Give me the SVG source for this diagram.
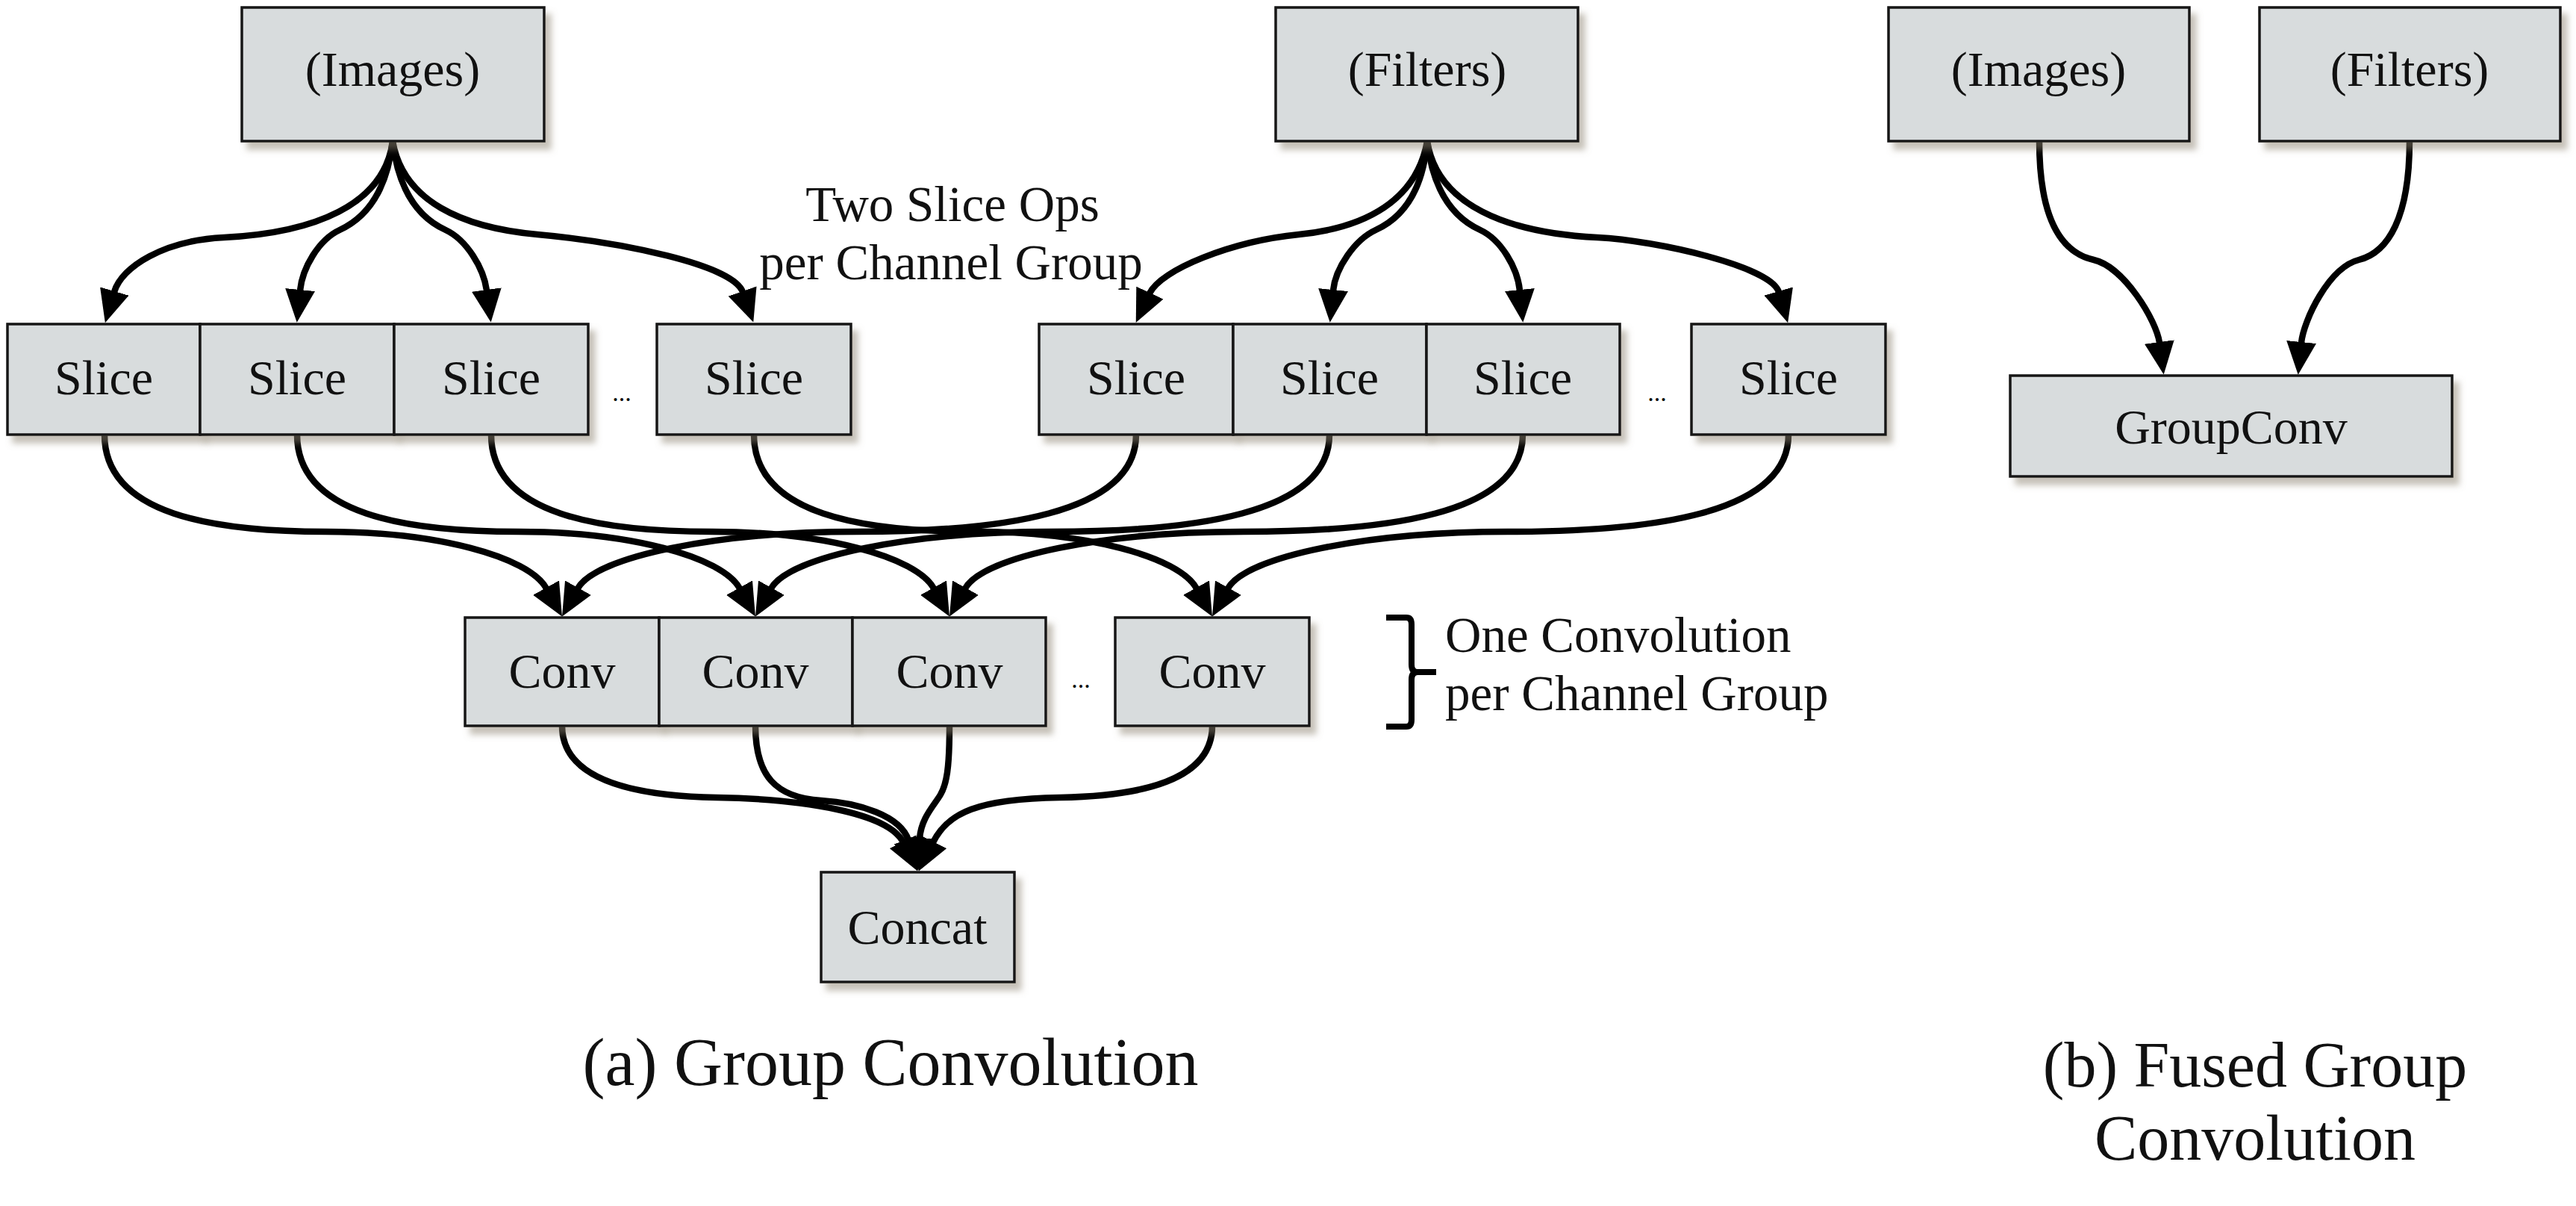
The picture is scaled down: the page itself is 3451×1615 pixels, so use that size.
<svg xmlns="http://www.w3.org/2000/svg" width="3451" height="1615" viewBox="0 0 3451 1615">
<defs>
<style>
.box{fill:#d8dcdd;stroke:#161616;stroke-width:3.5;filter:url(#sh)}
.lbl{font-family:"Liberation Serif","Times New Roman",serif;font-size:66px;fill:#111;text-anchor:middle}
.ann{font-family:"Liberation Serif","Times New Roman",serif;font-size:67px;fill:#111}
.cap{font-family:"Liberation Serif","Times New Roman",serif;font-size:86px;fill:#111;text-anchor:middle}
.capa{font-size:90px}
.dots{font-family:"Liberation Serif","Times New Roman",serif;font-size:34px;fill:#111;text-anchor:middle}
.edge{fill:none;stroke:#000;stroke-width:8.5;marker-end:url(#ah)}
</style>
<filter id="sh" x="-10%" y="-10%" width="130%" height="140%">
<feDropShadow dx="8" dy="10" stdDeviation="4" flood-color="#8c8270" flood-opacity="0.5"/>
</filter>
<marker id="ah" viewBox="0 0 44 40" markerUnits="userSpaceOnUse" markerWidth="44" markerHeight="40" refX="1" refY="20" orient="auto">
<path d="M0,0 L44,20 L0,40 z" fill="#000"/>
</marker>
</defs>
<rect width="3451" height="1615" fill="#fff"/>

<g id="connectors">
<path class="edge" d="M526,189 C515,275 420,312 300,318 C220,322 163,357 153,391"/>
<path class="edge" d="M526,189 C518,258 490,292 455,308 C427,321 405,359 402,389"/>
<path class="edge" d="M526,189 C534,258 562,292 597,308 C625,321 648,359 652,389"/>
<path class="edge" d="M526,189 C540,270 620,305 720,314 C830,324 982,354 995,391"/>
<path class="edge" d="M1912,189 C1898,268 1830,305 1740,314 C1650,323 1555,361 1540,393"/>
<path class="edge" d="M1912,189 C1906,258 1878,292 1843,308 C1815,321 1789,359 1786,389"/>
<path class="edge" d="M1912,189 C1920,258 1948,292 1983,308 C2011,321 2033,359 2036,389"/>
<path class="edge" d="M1912,189 C1925,275 2020,312 2140,318 C2220,322 2373,357 2383,391"/>

<path class="edge" d="M140,582 C140,690 288,712 436,712 S708,745 732,788"/>
<path class="edge" d="M398,582 C398,690 546,712 694,712 S967,745 991,788"/>
<path class="edge" d="M658,582 C658,690 806,712 954,712 S1227,745 1251,788"/>
<path class="edge" d="M1010,582 C1010,690 1158,712 1306,712 S1579,745 1603,788"/>
<path class="edge" d="M1522,582 C1522,690 1335,712 1148,712 S798,745 774,788"/>
<path class="edge" d="M1781,582 C1781,690 1594,712 1407,712 S1057,745 1033,788"/>
<path class="edge" d="M2040,582 C2040,690 1853,712 1666,712 S1317,745 1293,788"/>
<path class="edge" d="M2396,582 C2396,690 2208,712 2020,712 S1669,745 1645,788"/>

<path class="edge" d="M753,972 C753,1045 850,1066 960,1068 C1075,1070 1190,1088 1210,1128"/>
<path class="edge" d="M1012,972 C1012,1040 1040,1068 1100,1072 C1150,1075 1206,1092 1217,1125"/>
<path class="edge" d="M1272,972 C1272,1030 1268,1050 1260,1064 C1252,1078 1234,1095 1232,1123"/>
<path class="edge" d="M1624,972 C1624,1045 1530,1066 1420,1068 C1310,1070 1270,1088 1250,1128"/>

<path class="edge" d="M2732,189 C2732,290 2760,338 2805,348 C2845,357 2889,429 2893,459"/>
<path class="edge" d="M3228,189 C3228,290 3200,338 3160,348 C3120,358 3086,429 3083,459"/>
</g>

<g id="images"><rect class="box" x="324" y="10" width="405" height="179"/><text class="lbl" x="526" y="115">(Images)</text></g>
<g id="filters"><rect class="box" x="1709" y="10" width="405" height="179"/><text class="lbl" x="1912" y="115">(Filters)</text></g>

<g id="slice-i1"><rect class="box" x="10" y="434" width="258" height="148"/><text class="lbl" x="139" y="528">Slice</text></g>
<g id="slice-i2"><rect class="box" x="268" y="434" width="260" height="148"/><text class="lbl" x="398" y="528">Slice</text></g>
<g id="slice-i3"><rect class="box" x="528" y="434" width="260" height="148"/><text class="lbl" x="658" y="528">Slice</text></g>
<g id="slice-i4"><rect class="box" x="880" y="434" width="260" height="148"/><text class="lbl" x="1010" y="528">Slice</text></g>
<text class="dots" x="833" y="537">...</text>

<g id="slice-f1"><rect class="box" x="1392" y="434" width="260" height="148"/><text class="lbl" x="1522" y="528">Slice</text></g>
<g id="slice-f2"><rect class="box" x="1652" y="434" width="259" height="148"/><text class="lbl" x="1781" y="528">Slice</text></g>
<g id="slice-f3"><rect class="box" x="1911" y="434" width="259" height="148"/><text class="lbl" x="2040" y="528">Slice</text></g>
<g id="slice-f4"><rect class="box" x="2266" y="434" width="260" height="148"/><text class="lbl" x="2396" y="528">Slice</text></g>
<text class="dots" x="2220" y="537">...</text>

<g id="conv1"><rect class="box" x="623" y="827" width="260" height="145"/><text class="lbl" x="753" y="921">Conv</text></g>
<g id="conv2"><rect class="box" x="883" y="827" width="259" height="145"/><text class="lbl" x="1012" y="921">Conv</text></g>
<g id="conv3"><rect class="box" x="1142" y="827" width="259" height="145"/><text class="lbl" x="1272" y="921">Conv</text></g>
<g id="conv4"><rect class="box" x="1494" y="827" width="260" height="145"/><text class="lbl" x="1624" y="921">Conv</text></g>
<text class="dots" x="1448" y="921">...</text>

<g id="concat"><rect class="box" x="1100" y="1168" width="259" height="147"/><text class="lbl" x="1229" y="1264">Concat</text></g>

<g id="images-b"><rect class="box" x="2530" y="10" width="403" height="179"/><text class="lbl" x="2731" y="115">(Images)</text></g>
<g id="filters-b"><rect class="box" x="3027" y="10" width="403" height="179"/><text class="lbl" x="3228" y="115">(Filters)</text></g>
<g id="groupconv"><rect class="box" x="2693" y="503" width="592" height="135"/><text class="lbl" x="2989" y="594">GroupConv</text></g>

<g id="annotations">
<text class="ann" x="1276" y="296" text-anchor="middle">Two Slice Ops</text>
<text class="ann" x="1274" y="374" text-anchor="middle">per Channel Group</text>
<path d="M1857,827 L1884,827 Q1891,827 1891,836 L1891,890 Q1891,900 1899,900 L1924,900 M1899,900 Q1891,900 1891,910 L1891,964 Q1891,973 1884,973 L1857,973" fill="none" stroke="#000" stroke-width="8"/>
<text class="ann" x="1936" y="873">One Convolution</text>
<text class="ann" x="1936" y="951">per Channel Group</text>
</g>

<g id="captions">
<text class="cap capa" x="1193" y="1453">(a) Group Convolution</text>
<text class="cap" x="3021" y="1455">(b) Fused Group</text>
<text class="cap" x="3021" y="1553">Convolution</text>
</g>
</svg>
